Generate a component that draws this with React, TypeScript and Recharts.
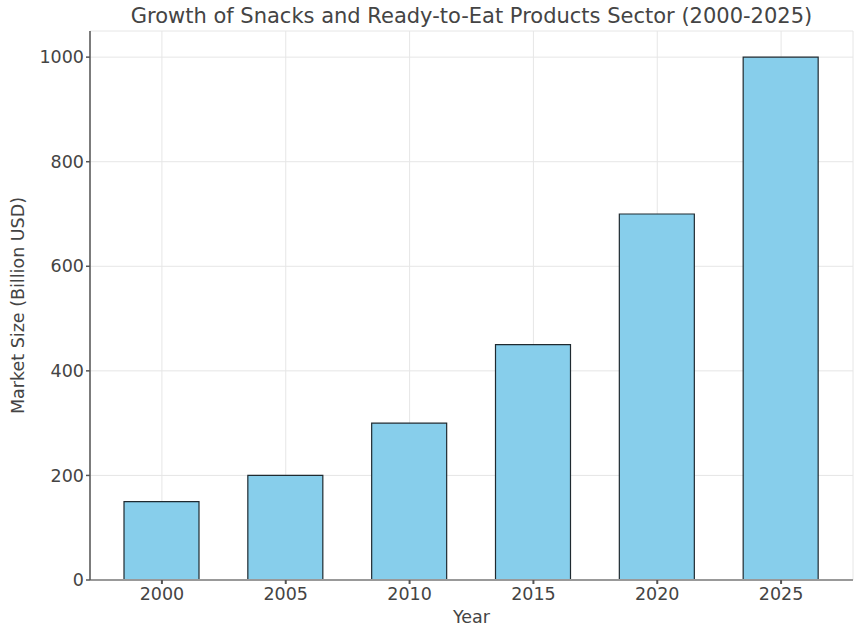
import React from 'react';
import { BarChart, Bar, XAxis, YAxis, CartesianGrid } from 'recharts';

// Market size per year
const YEARS = ['2000', '2005', '2010', '2015', '2020', '2025'];
const MARKET_SIZE = [150, 200, 300, 450, 700, 1000];
const Y_TICKS = [0, 200, 400, 600, 800, 1000];

const FONT = '"DejaVu Sans", sans-serif';
const TEXT = '#444';

const chartData = YEARS.map((year, i) => ({ year, size: MARKET_SIZE[i] }));

const App: React.FC = () => {
    return (
        <div style={{ position: 'absolute', left: 0, top: 0, width: 854, height: 628, background: '#fff', fontFamily: FONT }}>
            <div
                style={{
                    position: 'absolute',
                    left: 90,
                    width: 763,
                    top: 3,
                    textAlign: 'center',
                    fontSize: 21,
                    lineHeight: '26px',
                    color: TEXT,
                    whiteSpace: 'nowrap',
                }}
            >
                Growth of Snacks and Ready-to-Eat Products Sector (2000-2025)
            </div>
            <BarChart
                width={854}
                height={628}
                data={chartData}
                margin={{ top: 31, right: 1, left: 0, bottom: 0 }}
                barCategoryGap={0}
            >
                <CartesianGrid stroke="#e6e6e6" strokeWidth={1} />
                <XAxis
                    dataKey="year"
                    height={48}
                    padding={{ left: 10, right: 10 }}
                    stroke="#999"
                    strokeWidth={2}
                    tickLine={{ stroke: '#555' }}
                    tickSize={4}
                    tick={{ fill: TEXT, fontSize: 17.5, fontFamily: FONT, dy: 2 }}
                    label={{ value: 'Year', position: 'insideBottom', offset: 5, fill: TEXT, fontSize: 17.5, fontFamily: FONT }}
                />
                <YAxis
                    width={90}
                    domain={[0, 1050]}
                    ticks={Y_TICKS}
                    stroke="#555"
                    strokeWidth={1.5}
                    tickSize={4}
                    tick={{ fill: TEXT, fontSize: 17.5, fontFamily: FONT }}
                    label={{
                        value: 'Market Size (Billion USD)',
                        angle: -90,
                        position: 'insideLeft',
                        offset: 18,
                        style: { textAnchor: 'middle' },
                        fill: TEXT,
                        fontSize: 17.5,
                        fontFamily: FONT,
                    }}
                />
                <Bar
                    dataKey="size"
                    fill="#87CEEB"
                    stroke="#1f2a30"
                    strokeWidth={1.2}
                    barSize={75}
                    isAnimationActive={false}
                />
            </BarChart>
        </div>
    );
};

export default App;
